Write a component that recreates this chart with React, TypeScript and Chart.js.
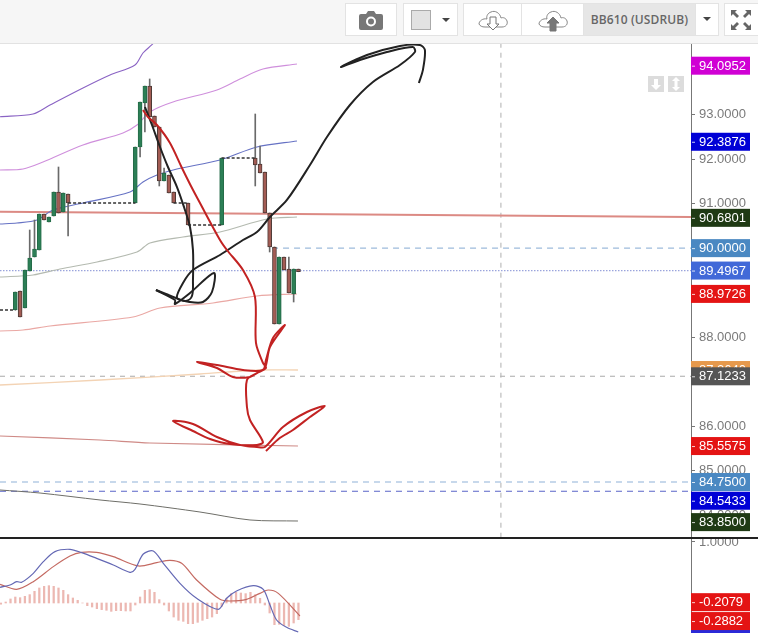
import React, { useEffect, useRef } from "react";
import { Chart, registerables } from "chart.js";

Chart.register(...registerables);

type Pt = [number, number];

// ---------- main pane: candles (bar index, open, high, low, close)
const candleIndex = [0, 1, 2, 3, 4, 5, 6, 7, 8, 9, 10, 11, 25, 26, 27, 28, 29, 30, 31, 32, 33, 36, 43, 50, 51, 52, 53, 54, 55, 56, 57, 58, 59];
const opens = [88.611, 89.038, 88.656, 89.487, 89.801, 89.958, 90.766, 90.587, 90.721, 91.26, 90.811, 91.215, 91.013, 92.27, 93.258, 93.64, 92.966, 92.719, 91.507, 91.642, 91.26, 91.013, 90.519, 92.023, 91.889, 91.709, 90.789, 90.026, 88.297, 89.801, 89.532, 88.971, 89.53];
const highs = [89.015, 89.038, 89.509, 90.407, 90.632, 90.766, 90.766, 90.699, 91.26, 91.821, 91.238, 91.215, 92.27, 93.28, 93.64, 93.797, 92.966, 92.719, 91.799, 91.642, 91.26, 91.013, 92.023, 93.011, 92.293, 91.709, 90.789, 90.026, 89.801, 89.801, 89.801, 89.532, 89.53];
const lows = [88.611, 88.454, 88.656, 89.487, 89.801, 89.958, 90.632, 90.587, 90.721, 90.789, 90.811, 90.272, 91.013, 92.046, 92.607, 92.944, 92.719, 91.395, 91.507, 91.238, 91.013, 90.519, 90.519, 91.395, 91.687, 90.789, 89.913, 88.297, 88.297, 89.509, 88.993, 88.791, 89.47];
const closes = [89.015, 88.454, 89.509, 89.779, 89.981, 90.766, 90.632, 90.699, 91.26, 90.789, 91.238, 91.013, 92.27, 93.28, 93.64, 92.944, 92.719, 91.507, 91.687, 91.238, 91.013, 90.519, 92.023, 91.866, 91.687, 90.789, 90.026, 88.297, 89.801, 89.509, 88.993, 89.532, 89.47];

// dashed connectors across gaps: from bar, to bar, price
const gapFrom = [-3.19, 11, 33, 36, 43];
const gapTo = [0, 25, 36, 43, 50];
const gapPrice = [88.611, 91.013, 91.013, 90.519, 92.023];

// ---------- indicator lines: [bar index, price]
const bandOuter: Pt[] = [[-3.19, 92.95], [3.69, 93.011], [7.23, 93.213], [14.1, 93.595], [19.73, 93.886], [24.94, 94.111], [26.6, 94.38], [28.48, 94.567], [30.15, 94.762]];
const bandInner: Pt[] = [[-3.19, 91.754], [1.6, 91.776], [5.77, 91.934], [14.1, 92.315], [22.44, 92.585], [25.35, 92.764], [28.06, 93.056], [32.85, 93.28], [42.02, 93.55], [46.81, 93.797], [51.6, 94.021], [58.69, 94.133]];
const bandBlue: Pt[] = [[-3.19, 90.542], [0.35, 90.564], [4.52, 90.632], [7.85, 90.856], [14.1, 91.013], [23.9, 91.26], [26.6, 91.485], [29.52, 91.642], [33.69, 91.776], [42.65, 91.978], [50.35, 92.27], [58.69, 92.405]];
const maGray: Pt[] = [[-3.19, 89.352], [3.69, 89.397], [9.31, 89.532], [17.02, 89.689], [25.35, 89.913], [28.06, 90.115], [34.94, 90.25], [42.65, 90.362], [52.44, 90.654], [58.69, 90.699]];
const bandPink: Pt[] = [[-3.19, 88.14], [1.6, 88.162], [7.23, 88.252], [24.52, 88.454], [30.15, 88.656], [41.19, 88.768], [50.35, 88.926], [58.69, 88.971]];
const bandOrange: Pt[] = [[-3.19, 86.928], [17.65, 87.04], [38.48, 87.175], [50.98, 87.264], [58.9, 87.264]];
const bandRed: Pt[] = [[-3.19, 85.783], [17.65, 85.693], [28.06, 85.626], [58.9, 85.559]];
const bandDark: Pt[] = [[-3.19, 84.571], [5.15, 84.503], [17.65, 84.347], [25.98, 84.257], [38.48, 84.077], [48.9, 83.898], [58.9, 83.875]];
const trendLine: Pt[] = [[-3.19, 90.818], [140.8, 90.699]];
const levelBlueDash: Pt[] = [[53.5, 90], [140.8, 90]];
const levelDotted: Pt[] = [[-3.19, 89.4967], [140.8, 89.4967]];
const levelGray: Pt[] = [[-3.19, 87.1233], [140.8, 87.1233]];
const levelLight: Pt[] = [[-3.19, 84.75], [140.8, 84.75]];
const levelDark: Pt[] = [[-3.19, 84.5433], [140.8, 84.5433]];
const cursorLine: Pt[] = [[101.19, 83.5], [101.19, 94.6]];

// ---------- hand-drawn strokes
const blackDown: Pt[] = [[27.02, 93.168], [28.48, 92.764], [30.15, 92.27], [31.81, 91.821], [33.69, 91.372], [35.15, 90.923], [36.4, 90.474], [37.02, 89.958], [37.02, 89.285], [36.81, 88.926], [35.56, 88.814], [33.48, 88.881], [31.4, 88.971], [29.31, 89.06]];
const blackArrow: Pt[] = [[29.31, 89.06], [33.27, 88.836], [33.27, 88.746], [36.4, 88.993], [41.4, 89.442], [40.98, 89.015], [39.1, 88.791], [36.4, 88.791], [33.69, 88.881], [34.94, 89.218], [37.02, 89.509], [42.65, 89.846], [47.44, 90.183], [50.35, 90.362], [53.06, 90.699], [56.6, 91.081], [61.4, 91.866], [64.94, 92.495], [69.73, 93.213], [74.52, 93.729], [80.15, 94.111], [83.27, 94.403], [82.85, 94.515], [77.44, 94.403], [71.81, 94.223], [67.85, 94.066], [73.27, 94.335], [80.15, 94.537], [84.31, 94.56], [85.35, 94.448], [84.94, 94.001], [84.1, 93.707]];
const redStroke: Pt[] = [[26.6, 93.101], [27.65, 92.944], [29.52, 92.764], [32.23, 92.36], [34.73, 91.799], [36.6, 91.395], [38.48, 91.013], [42.65, 90.183], [44.1, 89.958], [47.44, 89.509], [49.94, 88.903], [50.15, 87.871], [51.6, 87.422], [52.23, 87.309], [50.35, 87.197], [48.9, 87.108], [45.35, 87.108], [42.02, 87.309], [37.85, 87.444], [42.02, 87.377], [47.44, 87.264], [51.6, 87.264], [52.23, 87.489], [53.69, 87.983], [56.19, 88.275], [53.06, 87.781], [52.02, 87.309], [50.35, 87.197], [48.27, 87.04], [48.27, 86.434], [48.9, 86.142], [51.6, 85.648], [50.35, 85.581], [44.73, 85.603], [40.56, 85.716], [37.02, 85.895], [32.85, 86.12], [37.02, 86.053], [42.02, 85.761], [46.81, 85.581], [50.35, 85.536], [52.02, 85.536], [55.77, 85.985], [60.77, 86.322], [64.52, 86.457], [61.4, 86.21], [57.85, 85.918], [55.1, 85.738], [52.23, 85.446]];

// ---------- axes and price tags
const priceTicks = [84, 85, 86, 87, 88, 89, 90, 91, 92, 93, 94];
const macdTicks = [1];
const priceTagValues = [94.0952, 92.3876, 90.6801, 90.0, 89.4967, 88.9726, 87.264, 87.1233, 85.5575, 84.75, 84.5433, 83.85];
const priceTagColors = ["#d000d4", "#0000d6", "#1f3a14", "#4a88c2", "#4169d8", "#e41414", "#e6994c", "#555555", "#e41414", "#4a88c2", "#0000d6", "#1f3a14"];
const priceTagShift = [0, 0, 0, 0, 0, 0, 0, 0, 0, 0, 9.5, 0];
const macdTagValues = [-0.496, -0.2079, -0.2882];
const macdTagColors = ["#2a2ad8", "#e41414", "#e41414"];
const macdTagShift = [5, -13.5, 0.5];

// ---------- MACD pane
const macdFast: Pt[] = [[-3.19, 0.257], [-1.1, 0.295], [0.28, 0.35], [1.32, 0.339], [3.75, 0.486], [5.84, 0.678], [8.27, 0.842], [11.39, 0.88], [13.82, 0.825], [16.95, 0.732], [20.42, 0.623], [23.89, 0.503], [24.94, 0.552], [26.67, 0.803], [28.75, 0.852], [30.84, 0.65], [34.31, 0.322], [37.78, 0.077], [42.3, -0.104], [44.03, 0.077], [46.1, 0.197], [49.59, 0.284], [51.67, 0.224], [53.06, -0.033], [54.45, -0.279], [56.53, -0.399], [58.96, -0.475]];
const macdSlow: Pt[] = [[-3.19, 0.306], [0.28, 0.224], [3.75, 0.35], [7.92, 0.596], [11.39, 0.77], [13.82, 0.831], [16.95, 0.831], [20.42, 0.76], [25.63, 0.607], [29.45, 0.661], [32.23, 0.699], [34.66, 0.65], [37.78, 0.377], [42.64, 0.06], [44.73, 0.033], [48.2, 0.06], [50.97, 0.158], [52.71, 0.213], [54.8, 0.158], [59.31, -0.213]];
const histFirstBar = -3;
const histValues = [-0.02, 0.016, 0.066, 0.098, 0.087, 0.109, 0.137, 0.191, 0.246, 0.273, 0.284, 0.273, 0.246, 0.208, 0.137, 0.082, 0.044, 0, -0.044, -0.066, -0.093, -0.109, -0.12, -0.137, -0.126, -0.126, -0.131, -0.131, -0.033, 0.098, 0.208, 0.219, 0.175, 0.055, -0.033, -0.131, -0.23, -0.284, -0.301, -0.339, -0.339, -0.317, -0.284, -0.257, -0.23, -0.175, -0.055, 0.077, 0.153, 0.175, 0.164, 0.153, 0.175, 0.137, 0.077, -0.033, -0.164, -0.355, -0.35, -0.372, -0.383, -0.328, -0.273];

const X_MIN = -3.19;
const X_MAX = 140.8;
const AXIS_FONT = "'Liberation Sans', Arial, sans-serif";

const line = (pts: Pt[], color: string, width: number, order: number, extra: any = {}) => ({
  type: "line",
  data: pts.map(([x, y]) => ({ x, y })),
  borderColor: color,
  borderWidth: width,
  pointRadius: 0,
  tension: 0,
  fill: false,
  order,
  ...extra,
});

const tagPlugin = (values: number[], colors: string[], shifts: number[]) => ({
  id: "priceTags",
  afterDraw(chart: any) {
    const { ctx } = chart;
    const scale = chart.scales.y;
    const left = chart.chartArea.right;
    ctx.save();
    values.forEach((v, i) => {
      const y = scale.getPixelForValue(v) + shifts[i];
      ctx.fillStyle = colors[i];
      ctx.fillRect(left, y - 9, 59, 18);
      ctx.strokeStyle = "rgba(255,255,255,0.8)";
      ctx.lineWidth = 1;
      ctx.beginPath();
      ctx.moveTo(left + 1, y + 0.5);
      ctx.lineTo(left + 4, y + 0.5);
      ctx.stroke();
      ctx.fillStyle = "#ffffff";
      ctx.font = `13px ${AXIS_FONT}`;
      ctx.textBaseline = "middle";
      ctx.textAlign = "left";
      ctx.fillText(v.toFixed(4), left + 8, y + 0.5);
    });
    ctx.restore();
  },
});

const yAxis = (min: number, max: number, ticks: number[]) => ({
  position: "right",
  min,
  max,
  afterBuildTicks: (s: any) => {
    s.ticks = ticks.map((value) => ({ value }));
  },
  afterFit: (s: any) => {
    s.width = 67;
    s.paddingTop = 0;
    s.paddingBottom = 0;
  },
  grid: { drawOnChartArea: false, drawTicks: true, tickLength: 4, color: "#777777" },
  border: { display: true, color: "#777777", width: 1 },
  ticks: {
    color: "#7a7a7a",
    padding: 4,
    autoSkip: false,
    font: { family: AXIS_FONT, size: 13 },
    callback: (v: any) => Number(v).toFixed(4),
  },
});

const xAxis = () => ({ type: "linear", min: X_MIN, max: X_MAX, offset: false, display: false });

const baseOptions = {
  responsive: false,
  maintainAspectRatio: false,
  animation: false,
  layout: { padding: 0 },
  plugins: { legend: { display: false }, tooltip: { enabled: false }, title: { display: false } },
};

function PriceChart() {
  const ref = useRef<HTMLCanvasElement>(null);
  useEffect(() => {
    const idx = candleIndex.map((_, k) => k);
    const up = idx.filter((k) => closes[k] >= opens[k] && candleIndex[k] !== 59);
    const down = idx.filter((k) => closes[k] < opens[k] || candleIndex[k] === 59);
    const bar = (ks: number[], fill: string, edge: string) => ({
      type: "bar",
      data: ks.map((k) => ({ x: candleIndex[k], y: [opens[k], closes[k]] })),
      backgroundColor: fill,
      borderColor: edge,
      borderWidth: 1,
      borderSkipped: false,
      barThickness: 4,
      grouped: false,
      order: 2,
    });
    const chart = new Chart(ref.current as HTMLCanvasElement, {
      type: "bar",
      data: {
        datasets: [
          line(redStroke, "#c22222", 2, 0, { tension: 0.3 }),
          line(blackDown, "#222222", 2, 0, { tension: 0.35 }),
          line(blackArrow, "#222222", 2, 0, { tension: 0.3 }),
          ...gapFrom.map((from, k) => line([[from, gapPrice[k]], [gapTo[k], gapPrice[k]]], "#333333", 1.5, 1, { borderDash: [3, 2] })),
          bar(up, "#2c7f56", "#256b48"),
          bar(down, "#a35c54", "#4e3a36"),
          {
            type: "bar",
            data: idx.map((k) => ({ x: candleIndex[k], y: [lows[k], highs[k]] })),
            backgroundColor: "#6a6a6a",
            barThickness: 1,
            grouped: false,
            order: 3,
          },
          line(bandOuter, "#8a63c4", 1.1, 4, { tension: 0.3 }),
          line(bandInner, "#cf8fdc", 1.1, 4, { tension: 0.3 }),
          line(bandBlue, "#6672c4", 1.1, 4, { tension: 0.3 }),
          line(maGray, "#b4bab0", 1.2, 4, { tension: 0.3 }),
          line(bandPink, "#eaa8a4", 1.2, 4, { tension: 0.3 }),
          line(bandOrange, "#f3d3b4", 1.3, 4, { tension: 0.3 }),
          line(bandRed, "#cf8a86", 1.2, 4, { tension: 0.3 }),
          line(bandDark, "#6e6e68", 1, 4, { tension: 0.3 }),
          line(trendLine, "#dc8a84", 2, 4),
          line(levelBlueDash, "#9dbbdb", 1.2, 5, { borderDash: [6, 5] }),
          line(levelDotted, "#9aa4dc", 1.2, 5, { borderDash: [1.5, 1.5] }),
          line(levelGray, "#b8b8b8", 1.2, 5, { borderDash: [5, 5] }),
          line(levelLight, "#8fb2d8", 1.2, 5, { borderDash: [6, 5] }),
          line(levelDark, "#5a64c8", 1.2, 5, { borderDash: [6, 5] }),
          line(cursorLine, "#b0b0b0", 1, 6, { borderDash: [5, 5] }),
        ],
      } as any,
      options: {
        ...baseOptions,
        scales: { x: xAxis(), y: yAxis(83.516, 94.582, priceTicks) },
      } as any,
      plugins: [tagPlugin(priceTagValues, priceTagColors, priceTagShift)] as any,
    });
    return () => chart.destroy();
  }, []);
  return <canvas ref={ref} width={758} height={493} style={{ position: "absolute", left: 0, top: 44, width: 758, height: 493 }} />;
}

function MacdChart() {
  const ref = useRef<HTMLCanvasElement>(null);
  useEffect(() => {
    const chart = new Chart(ref.current as HTMLCanvasElement, {
      type: "bar",
      data: {
        datasets: [
          line(macdFast, "#6468b4", 1.2, 0, { tension: 0.3 }),
          line(macdSlow, "#c46a62", 1.2, 0, { tension: 0.3 }),
          {
            type: "bar",
            data: histValues.map((v, k) => ({ x: histFirstBar + k, y: v })),
            backgroundColor: "#ecb8b2",
            barThickness: 1.6,
            grouped: false,
            order: 1,
          },
        ],
      } as any,
      options: {
        ...baseOptions,
        scales: { x: xAxis(), y: yAxis(-0.492, 1.049, macdTicks) },
      } as any,
      plugins: [tagPlugin(macdTagValues, macdTagColors, macdTagShift)] as any,
    });
    return () => chart.destroy();
  }, []);
  return <canvas ref={ref} width={758} height={94} style={{ position: "absolute", left: 0, top: 539, width: 758, height: 94 }} />;
}

const boxStyle = (left: number, width: number): React.CSSProperties => ({
  position: "absolute",
  left,
  top: 3,
  width,
  height: 33,
  background: "#ffffff",
  border: "1px solid #e3e3e3",
  boxSizing: "border-box",
  display: "flex",
  alignItems: "center",
  justifyContent: "center",
});

const Caret = ({ left }: { left: number }) => (
  <div style={{ position: "absolute", left, top: 17, width: 0, height: 0, borderLeft: "4px solid transparent", borderRight: "4px solid transparent", borderTop: "4px solid #444" }} />
);

const Cloud = ({ fill, up }: { fill: boolean; up: boolean }) => (
  <svg width="32" height="24" viewBox="0 0 32 24">
    <path d="M8 19 H25 C29 19 31 16 30 13 C29 10 26 9 24 10 C23 5 18 2 14 4 C11 5 9 8 10 11 C6 10 2 13 2 16 C3 18 5 19 8 19 Z" fill="none" stroke="#888" strokeWidth="1" />
    {up ? (
      <path d="M16 9 L22 15 H19 V23 H13 V15 H10 Z" fill={fill ? "#777" : "#fff"} stroke="#777" />
    ) : (
      <path d="M13 9 H19 V16 H22 L16 22 L10 16 H13 Z" fill={fill ? "#777" : "#fff"} stroke="#777" />
    )}
  </svg>
);

function Toolbar() {
  return (
    <div style={{ position: "absolute", left: 0, top: 0, width: 758, height: 44, background: "#f6f6f6", borderBottom: "1px solid #e2e2e2", boxSizing: "border-box" }}>
      <div style={boxStyle(345, 52)}>
        <svg width="24" height="20" viewBox="0 0 24 20">
          <path d="M2 4 H7 L9 1 H15 L17 4 H22 Q24 4 24 6 V18 Q24 20 22 20 H2 Q0 20 0 18 V6 Q0 4 2 4 Z" fill="#777" />
          <circle cx="12" cy="11.5" r="5" fill="#fff" />
          <circle cx="12" cy="11.5" r="3" fill="#777" />
        </svg>
      </div>
      <div style={boxStyle(403, 55)}>
        <div style={{ position: "absolute", left: 7, top: 6, width: 20, height: 20, background: "#e2e2e2", border: "1px solid #aaa", boxSizing: "border-box" }} />
        <div style={{ position: "absolute", left: 38, top: 14, width: 0, height: 0, borderLeft: "4px solid transparent", borderRight: "4px solid transparent", borderTop: "4px solid #444" }} />
      </div>
      <div style={boxStyle(463, 59)}>
        <Cloud fill={false} up={false} />
      </div>
      <div style={boxStyle(521, 63)}>
        <Cloud fill={true} up={true} />
      </div>
      <div style={{ ...boxStyle(583, 113), background: "#e6e6e6", font: "600 12px 'Open Sans', sans-serif", color: "#666", letterSpacing: 0.1 }}>BB610 (USDRUB)</div>
      <div style={boxStyle(695, 24)} />
      <Caret left={703} />
      <div style={boxStyle(724, 40)}>
        <svg width="22" height="22" viewBox="0 0 22 22" style={{ position: "absolute", left: 5, top: 5 }}>
          <g fill="#666">
            <path d="M1 1 H7 L5 3 L9 7 L7 9 L3 5 L1 7 Z" />
            <path d="M21 1 H15 L17 3 L13 7 L15 9 L19 5 L21 7 Z" />
            <path d="M1 21 H7 L5 19 L9 15 L7 13 L3 17 L1 15 Z" />
            <path d="M21 21 H15 L17 19 L13 15 L15 13 L19 17 L21 15 Z" />
          </g>
        </svg>
      </div>
    </div>
  );
}

const ScrollButton = ({ left, both }: { left: number; both: boolean }) => (
  <div style={{ position: "absolute", left, top: 76, width: 16, height: 16, background: "#dcdcdc" }}>
    <svg width="16" height="16" viewBox="0 0 16 16">
      {both ? <path d="M8 1 L12 5 H9.5 V11 H12 L8 15 L4 11 H6.5 V5 H4 Z" fill="#fff" /> : <path d="M6 3 H10 V9 H13 L8 14 L3 9 H6 Z" fill="#fff" />}
    </svg>
  </div>
);

export default function App() {
  return (
    <div style={{ position: "fixed", left: 0, top: 0, width: 758, height: 633, overflow: "hidden", background: "#ffffff" }}>
      <Toolbar />
      <PriceChart />
      <MacdChart />
      <ScrollButton left={648} both={false} />
      <ScrollButton left={668} both={true} />
      <div style={{ position: "absolute", left: 0, top: 537, width: 758, height: 2, background: "#222" }} />
    </div>
  );
}
